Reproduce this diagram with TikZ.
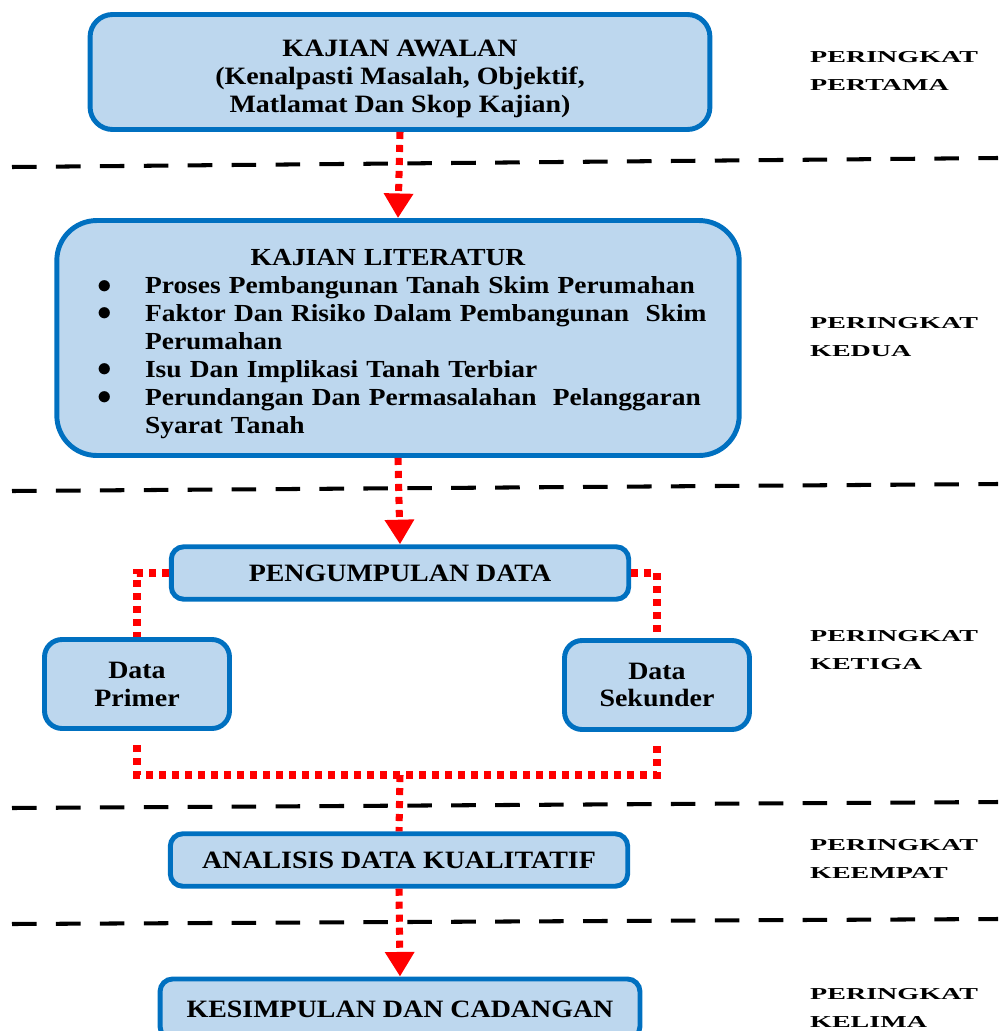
\documentclass[tikz,border=0pt]{standalone}
\usepackage{fontspec}
\setmainfont[FakeStretch=1.12]{Liberation Serif}
\usepackage{graphicx}
\usepackage{tikz}
\usetikzlibrary{
    positioning,
    arrows.meta,
    calc
}
\usepackage{xcolor}
\definecolor{isibiru}{HTML}{BDD7EE}
\definecolor{garisbiru}{HTML}{0070C0}
\definecolor{merah}{HTML}{FF0000}

\newcommand{\butir}{\makebox[1.14cm][l]{\hspace{0.19cm}\smash{\raisebox{0.3pt}{\scalebox{1.15}{\Large$\bullet$}}}}}
\newcommand{\lebar}[1]{\scalebox{1.5}[1]{#1}}

\begin{document}
\begin{tikzpicture}[
    x=0.02cm, y=-0.02cm,
    kotak/.style={
        rectangle,
        draw=garisbiru,
        fill=isibiru,
        line width=2.8pt,
        align=center,
        font=\fontsize{14.2}{15.9}\selectfont\bfseries
    },
    awal/.style={kotak, rounded corners=0.45cm, minimum width=12.4cm, minimum height=2.3cm},
    literatur/.style={kotak, rounded corners=0.8cm, minimum width=13.65cm, minimum height=4.7cm},
    proses/.style={kotak, rounded corners=0.25cm, minimum width=9.15cm, minimum height=1.05cm},
    data/.style={kotak, rounded corners=0.35cm, minimum width=3.7cm, minimum height=1.78cm},
    peringkat/.style={anchor=west, align=left, font=\fontsize{9.5}{15.9}\selectfont\bfseries},
    sempadan/.style={black, line width=2.3pt, dash pattern=on 14pt off 11pt},
    titik/.style={merah, line width=4pt, dash pattern=on 4pt off 3.4pt},
    panah/.style={titik, -{Triangle[width=16pt, length=14pt]}}
]
\useasboundingbox (0,0) rectangle (998,1031);

% Kotak utama
\node[awal] (awal) at (400,72) {
    \rule{0pt}{17pt}KAJIAN AWALAN\\
    (Kenalpasti Masalah, Objektif,\\
    Matlamat Dan Skop Kajian)
};

\node[literatur, text width=12.4cm, align=left, font=\fontsize{13.95}{15.9}\selectfont\bfseries] (literatur) at (398,338) {
    \rule{0pt}{16pt}\makebox[12.0cm][c]{KAJIAN LITERATUR}\\
    \mbox{\butir Proses Pembangunan Tanah Skim Perumahan}\\
    \mbox{\butir Faktor Dan Risiko Dalam Pembangunan\ \ Skim}\\
    \mbox{\hspace*{1.14cm}Perumahan}\\
    \mbox{\butir Isu Dan Implikasi Tanah Terbiar}\\
    \mbox{\butir Perundangan Dan Permasalahan\ \ Pelanggaran}\\
    \mbox{\hspace*{1.14cm}Syarat Tanah}
};

\node[proses] (pengumpulan) at (400,573) {PENGUMPULAN DATA};
\node[data] (primer) at (137,684) {Data\\Primer};
\node[data] (sekunder) at (657,685) {Data\\Sekunder};
\node[proses] (analisis) at (399,860) {ANALISIS DATA KUALITATIF};
\node[proses, minimum width=9.6cm, minimum height=1.2cm] (kesimpulan) at (400,1009) {KESIMPULAN DAN CADANGAN};

% Garis sempadan peringkat
\draw[sempadan] (12,167) -- (998,158);
\draw[sempadan] (12,491) -- (998,484);
\draw[sempadan] (12,808) -- (998,802);
\draw[sempadan] (12,924) -- (998,919);

% Aliran
\draw[panah] (awal.south) -- (literatur.north);
\draw[panah] (literatur.south) -- (pengumpulan.north);
\draw[titik] (pengumpulan.west) -| (primer.north);
\draw[titik] (pengumpulan.east) -| (sekunder.north);
\coordinate (gabung) at (400,775);
\draw[titik, shorten <=8pt] (primer.south) |- (gabung);
\draw[titik, shorten <=8pt] (sekunder.south) |- (gabung);
\draw[titik] (gabung) -- (analisis.north);
\draw[panah] (analisis.south) -- (kesimpulan.north);

% Label peringkat
\node[peringkat] (p1) at (804,71) {\lebar{PERINGKAT}\\\lebar{PERTAMA}};
\node[peringkat] (p2) at (804,337) {\lebar{PERINGKAT}\\\lebar{KEDUA}};
\node[peringkat] (p3) at (804,650) {\lebar{PERINGKAT}\\\lebar{KETIGA}};
\node[peringkat] (p4) at (804,859) {\lebar{PERINGKAT}\\\lebar{KEEMPAT}};
\node[peringkat] (p5) at (804,1008) {\lebar{PERINGKAT}\\\lebar{KELIMA}};

\end{tikzpicture}
\end{document}
